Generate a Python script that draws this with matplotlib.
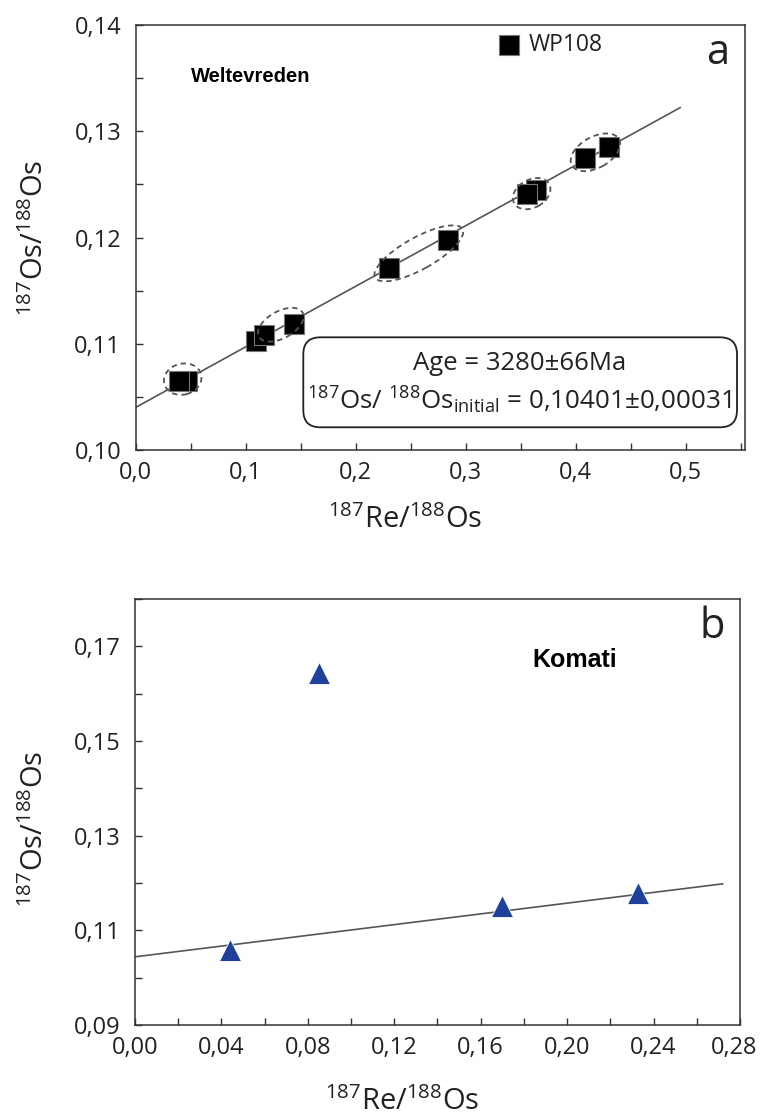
import matplotlib
matplotlib.use("Agg")
import matplotlib.pyplot as plt
import numpy as np
from matplotlib.patches import Ellipse, FancyBboxPatch
from matplotlib.transforms import ScaledTranslation, offset_copy
from matplotlib.ticker import MultipleLocator, FuncFormatter

# ---------------- data ----------------
# Panel a: Weltevreden (WP108)
wp_re = [0.047, 0.039, 0.1095, 0.1165, 0.1436, 0.2305, 0.2842, 0.3642, 0.3555, 0.4085, 0.430]
wp_os = [0.1065, 0.1065, 0.1103, 0.1108, 0.1119, 0.1171, 0.1198, 0.1245, 0.1241, 0.1275, 0.1285]
# error ellipses: centre (x, y), length, width (px), angle (deg)
ell_x = [0.0427, 0.1319, 0.2574, 0.3600, 0.4180]
ell_y = [0.10667, 0.11179, 0.11851, 0.12413, 0.12802]
ell_len = [38, 50, 100, 40, 54]
ell_wid = [31, 27, 32, 28, 31]
ell_ang = [15, 29, 29, 29, 29]
iso_a_intercept = 0.10401
iso_a_slope = 0.0570
iso_a_xrange = [0.0, 0.495]

# Panel b: Komati
kom_re = [0.044, 0.085, 0.170, 0.233]
kom_os = [0.1059, 0.1644, 0.1152, 0.1179]
iso_b_intercept = 0.1044
iso_b_slope = 0.0567
iso_b_xrange = [0.0, 0.272]

# ---------------- style ----------------
plt.rcParams['font.family'] = ['Open Sans', 'DejaVu Sans']
plt.rcParams['mathtext.fontset'] = 'custom'
plt.rcParams['mathtext.rm'] = 'Open Sans'
plt.rcParams['mathtext.it'] = 'Open Sans:italic'
plt.rcParams['mathtext.bf'] = 'Open Sans:bold'
plt.rcParams['mathtext.default'] = 'rm'

DPI = 100
fig = plt.figure(figsize=(7.60, 11.18), dpi=DPI)
ax1 = fig.add_axes([0.1786, 0.5975, 0.8017, 0.3801])
ax2 = fig.add_axes([0.1776, 0.0832, 0.7960, 0.3810])

spine_c = '#333333'
XPAD = 8
def comma_fmt(nd, skip_max=None):
    def f(v, p):
        if skip_max is not None and v >= skip_max - 1e-9:
            return ''
        return (f"{v:.{nd}f}").replace('.', ',')
    return FuncFormatter(f)

for ax in (ax1, ax2):
    for s in ax.spines.values():
        s.set_color(spine_c)
        s.set_linewidth(1.1)
    ax.tick_params(which='both', direction='in', length=5, width=1.0, color=spine_c,
                   labelsize=17, labelcolor='#222222')
    ax.tick_params(axis='x', which='both', pad=XPAD)
    ax.tick_params(axis='y', which='both', pad=10.5)
    ax.tick_params(which='both', top=False, right=False)

ylab = r'$^{187}$Os/$^{188}$Os'
xlab = r'$^{187}$Re/$^{188}$Os'

# ---------- panel a ----------
xs = np.array(iso_a_xrange)
ax1.plot(xs, iso_a_intercept + iso_a_slope * xs, color='#555555', lw=1.2, zorder=2)
for i, (x, y) in enumerate(zip(wp_re, wp_os)):
    ax1.plot([x], [y], marker='s', ms=13.8, mfc='black', mec='#777777', mew=0.8,
             ls='none', zorder=3 + i)
for x, y, L, W, a in zip(ell_x, ell_y, ell_len, ell_wid, ell_ang):
    tr = fig.dpi_scale_trans + ScaledTranslation(x, y, ax1.transData)
    e = Ellipse((0, 0), width=L / DPI, height=W / DPI, angle=a, transform=tr,
                fill=False, ls=(0, (3, 2.2)), lw=1.3, ec='#555555', zorder=20)
    ax1.add_patch(e)

ax1.set_xlim(0, 0.554)
ax1.set_ylim(0.10, 0.14)
ax1.xaxis.set_major_locator(MultipleLocator(0.1))
ax1.xaxis.set_minor_locator(MultipleLocator(0.05))
ax1.yaxis.set_major_locator(MultipleLocator(0.01))
ax1.yaxis.set_minor_locator(MultipleLocator(0.005))
ax1.xaxis.set_major_formatter(comma_fmt(1))
ax1.yaxis.set_major_formatter(comma_fmt(2))
ax1.set_xlabel(xlab, fontsize=21, color='#222222')
ax1.set_ylabel(ylab, fontsize=21, color='#222222')
ax1.xaxis.set_label_coords(0.442, -0.13)
ax1.yaxis.set_label_coords(-0.1405, 0.5)

ax1.text(0.09, 0.88, 'Weltevreden', transform=ax1.transAxes, fontsize=14.5,
         fontweight='bold', family=['Liberation Sans'], ha='left', va='center')
ax1.text(0.955, 0.935, 'a', transform=ax1.transAxes, fontsize=30, ha='center',
         va='center', color='#222222')
# legend
ax1.plot([0.613], [0.9525], transform=ax1.transAxes, marker='s', ms=13.8,
         mfc='black', mec='#777777', mew=0.8, ls='none', clip_on=False)
ax1.text(0.645, 0.9525, 'WP108', transform=ax1.transAxes, fontsize=16.5,
         ha='left', va='center', color='#222222')

# annotation box (in inches, isotropic corners)
box = FancyBboxPatch((3.033, 6.907), 4.337, 0.90,
                     boxstyle='round,pad=0,rounding_size=0.17',
                     transform=fig.dpi_scale_trans, fc='white', ec='#222222',
                     lw=1.3, zorder=30)
fig.patches.append(box)
fig.text(5.20 / 7.60, 1 - 3.63 / 11.18, 'Age = 3280\u00b166Ma', fontsize=18.5,
         ha='center', va='center', color='#222222', zorder=31)
fig.text(5.19 / 7.60, 1 - 4.00 / 11.18,
         r'$^{187}$Os/ $^{188}$Os$_{\mathrm{initial}}$ = 0,10401$\pm$0,00031',
         fontsize=18.7, ha='center', va='center', color='#222222', zorder=31)

# ---------- panel b ----------
xs = np.array(iso_b_xrange)
ax2.plot(xs, iso_b_intercept + iso_b_slope * xs, color='#555555', lw=1.2, zorder=2)
ax2.plot(kom_re, kom_os, marker='^', ms=16.5, mfc='#1f4199', mec='white', mew=0.6,
         ls='none', zorder=3)
XMAX_B = 0.28
ax2.set_xlim(0, XMAX_B)
ax2.set_ylim(0.09, 0.18)
ax2.xaxis.set_major_locator(MultipleLocator(0.04))
ax2.xaxis.set_minor_locator(MultipleLocator(0.02))
ax2.set_yticks([0.09, 0.11, 0.13, 0.15, 0.17])
ax2.yaxis.set_minor_locator(MultipleLocator(0.01))
ax2.xaxis.set_major_formatter(comma_fmt(2, skip_max=XMAX_B))
ax2.yaxis.set_major_formatter(comma_fmt(2))
# last tick label drawn slightly inward so it stays on the canvas
ax2.text(XMAX_B, 0, f"{XMAX_B:.2f}".replace('.', ','), fontsize=17, color='#222222',
         ha='right', va='top',
         transform=offset_copy(ax2.get_xaxis_transform(), fig, x=17, y=-XPAD * DPI / 72,
                               units='dots'),
         clip_on=False)
ax2.set_xlabel(xlab, fontsize=21, color='#222222')
ax2.set_ylabel(ylab, fontsize=21, color='#222222')
ax2.xaxis.set_label_coords(0.441, -0.145)
ax2.yaxis.set_label_coords(-0.1405, 0.46)
ax2.text(0.727, 0.857, 'Komati', transform=ax2.transAxes, fontsize=18,
         fontweight='bold', family=['Liberation Sans'], ha='center', va='center')
ax2.text(0.955, 0.935, 'b', transform=ax2.transAxes, fontsize=30, ha='center',
         va='center', color='#222222')

fig.savefig('out.png', dpi=DPI)
